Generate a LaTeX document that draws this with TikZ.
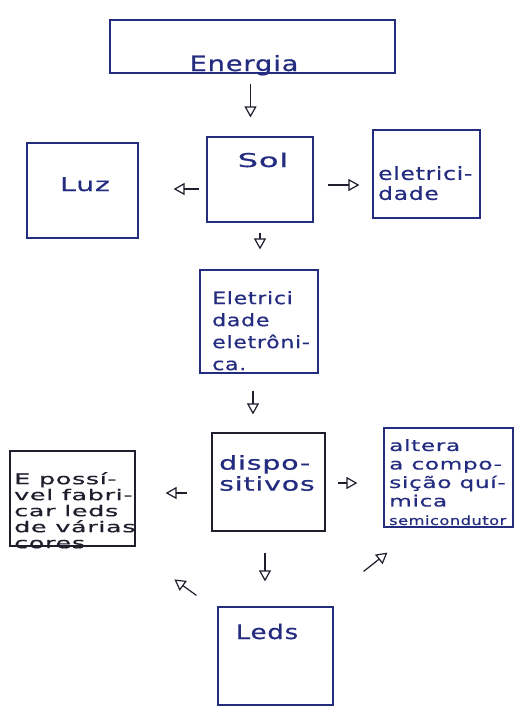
\documentclass[tikz,border=0pt]{standalone}
\usepackage{fontspec}
\setmainfont{DejaVu Sans}
% pen lettering: widened glyphs at three widths
\newfontfamily\handS[LetterSpace=4,FakeStretch=1.3,FakeBold=0.6]{DejaVu Sans}
\newfontfamily\handM[LetterSpace=4,FakeStretch=1.5,FakeBold=0.6]{DejaVu Sans}
\newfontfamily\handL[LetterSpace=4,FakeStretch=1.7,FakeBold=0.6]{DejaVu Sans}
\usetikzlibrary{arrows.meta,calc}
\definecolor{ink}{RGB}{36,44,128}
\definecolor{pencil}{RGB}{30,30,45}
\begin{document}
\begin{tikzpicture}[x=1pt,y=-1pt,
  box/.style={draw=ink, line width=1.2pt, inner sep=0pt},
  arr/.style={draw=pencil, line width=1.2pt, shorten <=#1,
    -{Triangle[open,length=11pt,width=12pt,line width=1.2pt]}},
  arr/.default=0pt,
  txt/.style={text=ink, align=left, inner sep=0pt}]
\useasboundingbox[fill=white] (0,0) rectangle (524,709);

% boxes
\node[box, minimum width=285pt, minimum height=53pt] (energia) at (252.5,46.5) {};
\node[box, minimum width=111pt, minimum height=95pt] (luz) at (82.5,190.5) {};
\node[box, minimum width=106pt, minimum height=85pt] (sol) at (260,179.5) {};
\node[box, minimum width=107pt, minimum height=88pt] (eletr) at (426.5,174) {};
\node[box, minimum width=118pt, minimum height=103pt] (eletron) at (259,321.5) {};
\node[box, draw=pencil, minimum width=113pt, minimum height=98pt] (disp) at (268.5,482) {};
\node[box, draw=pencil, minimum width=125pt, minimum height=95pt] (poss) at (72.5,498.5) {};
\node[box, minimum width=129pt, minimum height=99pt] (alt) at (448.5,477.5) {};
\node[box, minimum width=115pt, minimum height=98pt] (leds) at (275.5,656) {};

% texts
\node[txt, anchor=base, font=\handS\fontsize{21}{21}\selectfont] (tenergia) at (244,71) {Energia};
\node[txt, anchor=base, font=\handM\fontsize{19}{21}\selectfont] (tluz) at (85,191) {Luz};
\node[txt, anchor=base, font=\handL\fontsize{19}{21}\selectfont] (tsol) at (263,167) {Sol};
\node[txt, anchor=north west, font=\handS\fontsize{18}{20}\selectfont] (teletr) at (378,166) {eletrici-\\dade};
\node[txt, anchor=north west, font=\handS\fontsize{17}{22}\selectfont] (teletron) at (212,291) {Eletrici\\dade\\eletrôni-\\ca.};
\node[txt, anchor=north west, font=\handM\fontsize{19}{21}\selectfont] (tdisp) at (219,455) {dispo-\\sitivos};
\node[txt, text=pencil, anchor=north west, font=\handL\fontsize{15}{16}\selectfont]
  (tposs) at (14,472) {E possí-\\vel fabri-\\car leds\\de várias\\cores};
\node[txt, anchor=north west, font=\handM\fontsize{15.5}{18.5}\selectfont]
  (talt) at (389,439) {altera\\a compo-\\sição quí-\\mica\\{\handS\fontsize{12.5}{18.5}\selectfont semicondutor}};
\node[txt, anchor=base, font=\handS\fontsize{20}{21}\selectfont] (tleds) at (267,639) {Leds};

% connectors
\draw[arr=10pt, shorten >=19pt] ($(energia.south)+(-2,0)$) -- ($(energia.south |- sol.north)+(-2,0)$);
\draw[arr=7pt, shorten >=35pt] ($(sol.west)+(0,9.5)$) -- ($(luz.east)+(0,-1.5)$);
\draw[arr=14pt, shorten >=13pt] ($(sol.east)+(0,5.5)$) -- ($(eletr.west)+(0,11)$);
\draw[arr=10pt, shorten >=20pt] (sol.south) -- (sol.south |- eletron.north);
\draw[arr=17pt, shorten >=18pt] ($(eletron.south)+(-6,0)$) -- ($(eletron.south |- disp.north)+(-6,0)$);
\draw[arr=24pt, shorten >=30pt] ($(disp.west)+(0,11)$) -- ($(poss.east)+(0,-5.5)$);
\draw[arr=12pt, shorten >=26pt] ($(disp.east)+(0,1)$) -- ($(alt.west)+(0,5.5)$);
\draw[arr=21pt, shorten >=25pt] ($(disp.south)+(-3.5,0)$) -- ($(disp.south |- leds.north)+(-3.5,0)$);
\draw[arr] ($(leds.north west)+(-21,-11)$) -- ($(leds.north west)+(-43,-27)$);
\draw[arr] ($(leds.north east)+(30,-35)$) -- ($(alt.south west)+(4,25)$);
\end{tikzpicture}
\end{document}
